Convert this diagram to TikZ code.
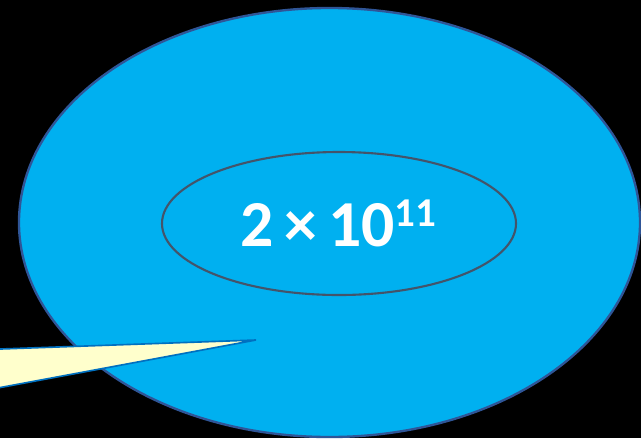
\documentclass[tikz,border=0pt]{standalone}
\usepackage{fontspec}
\setmainfont{Carlito}
\usetikzlibrary{shapes.geometric}

\definecolor{cellblue}{HTML}{00B0F0}
\definecolor{celledge}{HTML}{2F5597}
\definecolor{coreedge}{HTML}{44546A}
\definecolor{tipfill}{HTML}{FFFFCC}
\definecolor{tipedge}{HTML}{0070C0}

\newcommand{\bigexp}[1]{\raisebox{17pt}{\fontsize{35}{36}\selectfont #1}}

\begin{document}
\begin{tikzpicture}[
    x=0.03cm, y=-0.03cm,
    blob/.style={ellipse, draw, inner sep=0pt},
    tally/.style={text=white, font=\fontsize{56}{60}\selectfont\bfseries, inner sep=0pt}
]

% Background
\fill[black] (0,0) rectangle (641,438);
\useasboundingbox (0,0) rectangle (641,438);

% Ellipses
\node[blob, fill=cellblue, draw=celledge, line width=2pt, minimum width=18.63cm, minimum height=12.87cm] (cell) at (329.5,222.5) {};
\node[blob, draw=coreedge, line width=1.8pt, minimum width=10.62cm, minimum height=4.29cm] (core) at (339,223.5) {};

% Number
\node[tally, anchor=base] (count) at (338.5,246) {2\,×\,10\bigexp{11}};

% Callout pointer
\begin{scope}
\clip (0,0) rectangle (641,438);
\draw[fill=tipfill, draw=tipedge, line width=1.4pt] (-5,349.2) -- (256,340) -- (-5,388.5) -- cycle;
\end{scope}

\end{tikzpicture}
\end{document}
